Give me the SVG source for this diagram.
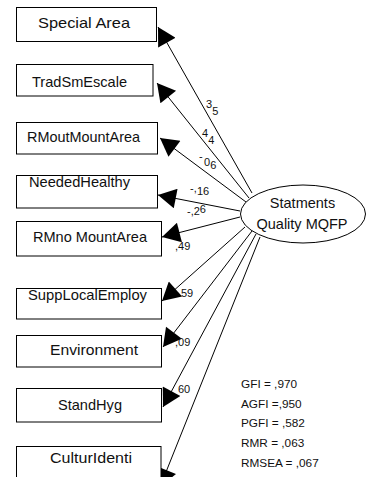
<svg xmlns="http://www.w3.org/2000/svg" width="366" height="477" viewBox="0 0 366 477">
  <style>
    .box rect { fill: #fff; stroke: #000; stroke-width: 1; }
    .box text, .latent text { font-family: "Liberation Sans", Arial, sans-serif; font-size: 14.5px; fill: #111; text-anchor: middle; }
    .latent ellipse { fill: #fff; stroke: #000; stroke-width: 1; }
    .edges line { stroke: #000; stroke-width: 1; marker-end: url(#head); }
    .coef, .fit { font-family: "Liberation Sans", Arial, sans-serif; fill: #111; }
    .coef { font-size: 11px; }
    .fit { font-size: 11.8px; }
  </style>
  <defs>
    <marker id="head" markerUnits="userSpaceOnUse" markerWidth="20" markerHeight="20" viewBox="0 0 20 20" refX="20" refY="10" orient="auto">
      <path d="M2,0 L20,10 L2,20 Z" fill="#000"/>
    </marker>
  </defs>
  <rect width="366" height="477" fill="#fff"/>

  <!-- connectors: latent factor to each indicator -->
  <g id="connectors" class="edges">
    <line x1="252" y1="193" x2="158" y2="27"/>
    <line x1="249" y1="198" x2="157" y2="83"/>
    <line x1="246" y1="202" x2="160" y2="138"/>
    <line x1="240" y1="211" x2="158" y2="195"/>
    <line x1="240" y1="217" x2="162" y2="237"/>
    <line x1="245" y1="227" x2="162" y2="301"/>
    <line x1="252" y1="231" x2="163" y2="347"/>
    <line x1="256" y1="234" x2="163" y2="407"/>
    <line x1="260" y1="237" x2="160" y2="487"/>
  </g>

  <!-- path coefficients -->
  <g id="coefficients" class="coef">
    <text x="206" y="108">3<tspan x="212.3" y="115">5</tspan></text>
    <text x="202" y="137">4<tspan x="208.3" y="144">4</tspan></text>
    <text x="199" y="160">-<tspan x="204" y="166">0</tspan><tspan x="210.3" y="169">6</tspan></text>
    <text x="190" y="192">-,<tspan x="197" y="195">16</tspan></text>
    <text x="187" y="215">-,2<tspan dy="-2">6</tspan></text>
    <text x="175" y="250">,49</text>
    <text x="181" y="297">59</text>
    <text x="175" y="346">,09</text>
    <text x="178" y="393">60</text>
  </g>

  <g id="n-special-area" class="box">
    <rect x="16.5" y="7.5" width="140" height="34"/>
    <text x="84" y="28" textLength="92" lengthAdjust="spacingAndGlyphs">Special Area</text>
  </g>
  <g id="n-tradsmescale" class="box">
    <rect x="16.5" y="64.5" width="136.5" height="31.5"/>
    <text x="79.5" y="87" textLength="95" lengthAdjust="spacingAndGlyphs">TradSmEscale</text>
  </g>
  <g id="n-rmoutmountarea" class="box">
    <rect x="16.5" y="122.5" width="141" height="31.5"/>
    <text x="83.5" y="142" textLength="113" lengthAdjust="spacingAndGlyphs">RMoutMountArea</text>
  </g>
  <g id="n-neededhealthy" class="box">
    <rect x="16.5" y="175.5" width="141" height="32.5"/>
    <text x="79.5" y="187" textLength="101" lengthAdjust="spacingAndGlyphs">NeededHealthy</text>
  </g>
  <g id="n-rmnomountarea" class="box">
    <rect x="16.5" y="221.5" width="145" height="34.5"/>
    <text x="90" y="242" textLength="114" lengthAdjust="spacingAndGlyphs">RMno MountArea</text>
  </g>
  <g id="n-supplocalemploy" class="box">
    <rect x="16.5" y="288.5" width="145" height="30.5"/>
    <text x="87.5" y="300" textLength="119" lengthAdjust="spacingAndGlyphs">SuppLocalEmploy</text>
  </g>
  <g id="n-environment" class="box">
    <rect x="16.5" y="335.5" width="145" height="31.5"/>
    <text x="94" y="355" textLength="88" lengthAdjust="spacingAndGlyphs">Environment</text>
  </g>
  <g id="n-standhyg" class="box">
    <rect x="16.5" y="388.5" width="145" height="33.5"/>
    <text x="90" y="410" textLength="64" lengthAdjust="spacingAndGlyphs">StandHyg</text>
  </g>
  <g id="n-culturidenti" class="box">
    <rect x="16.5" y="446.5" width="144.5" height="40"/>
    <text x="91" y="463" textLength="82" lengthAdjust="spacingAndGlyphs">CulturIdenti</text>
  </g>

  <g id="n-statments-quality" class="latent">
    <ellipse cx="303" cy="214" rx="62.5" ry="29"/>
    <text x="302.5" y="207.5">Statments</text>
    <text x="302" y="228.5">Quality MQFP</text>
  </g>

  <!-- model fit indices -->
  <g id="fit-indices" class="fit">
    <text x="241" y="388">GFI = ,970</text>
    <text x="241" y="407.5">AGFI =,950</text>
    <text x="241" y="427">PGFI = ,582</text>
    <text x="241" y="447">RMR = ,063</text>
    <text x="241" y="467">RMSEA = ,067</text>
  </g>
</svg>
